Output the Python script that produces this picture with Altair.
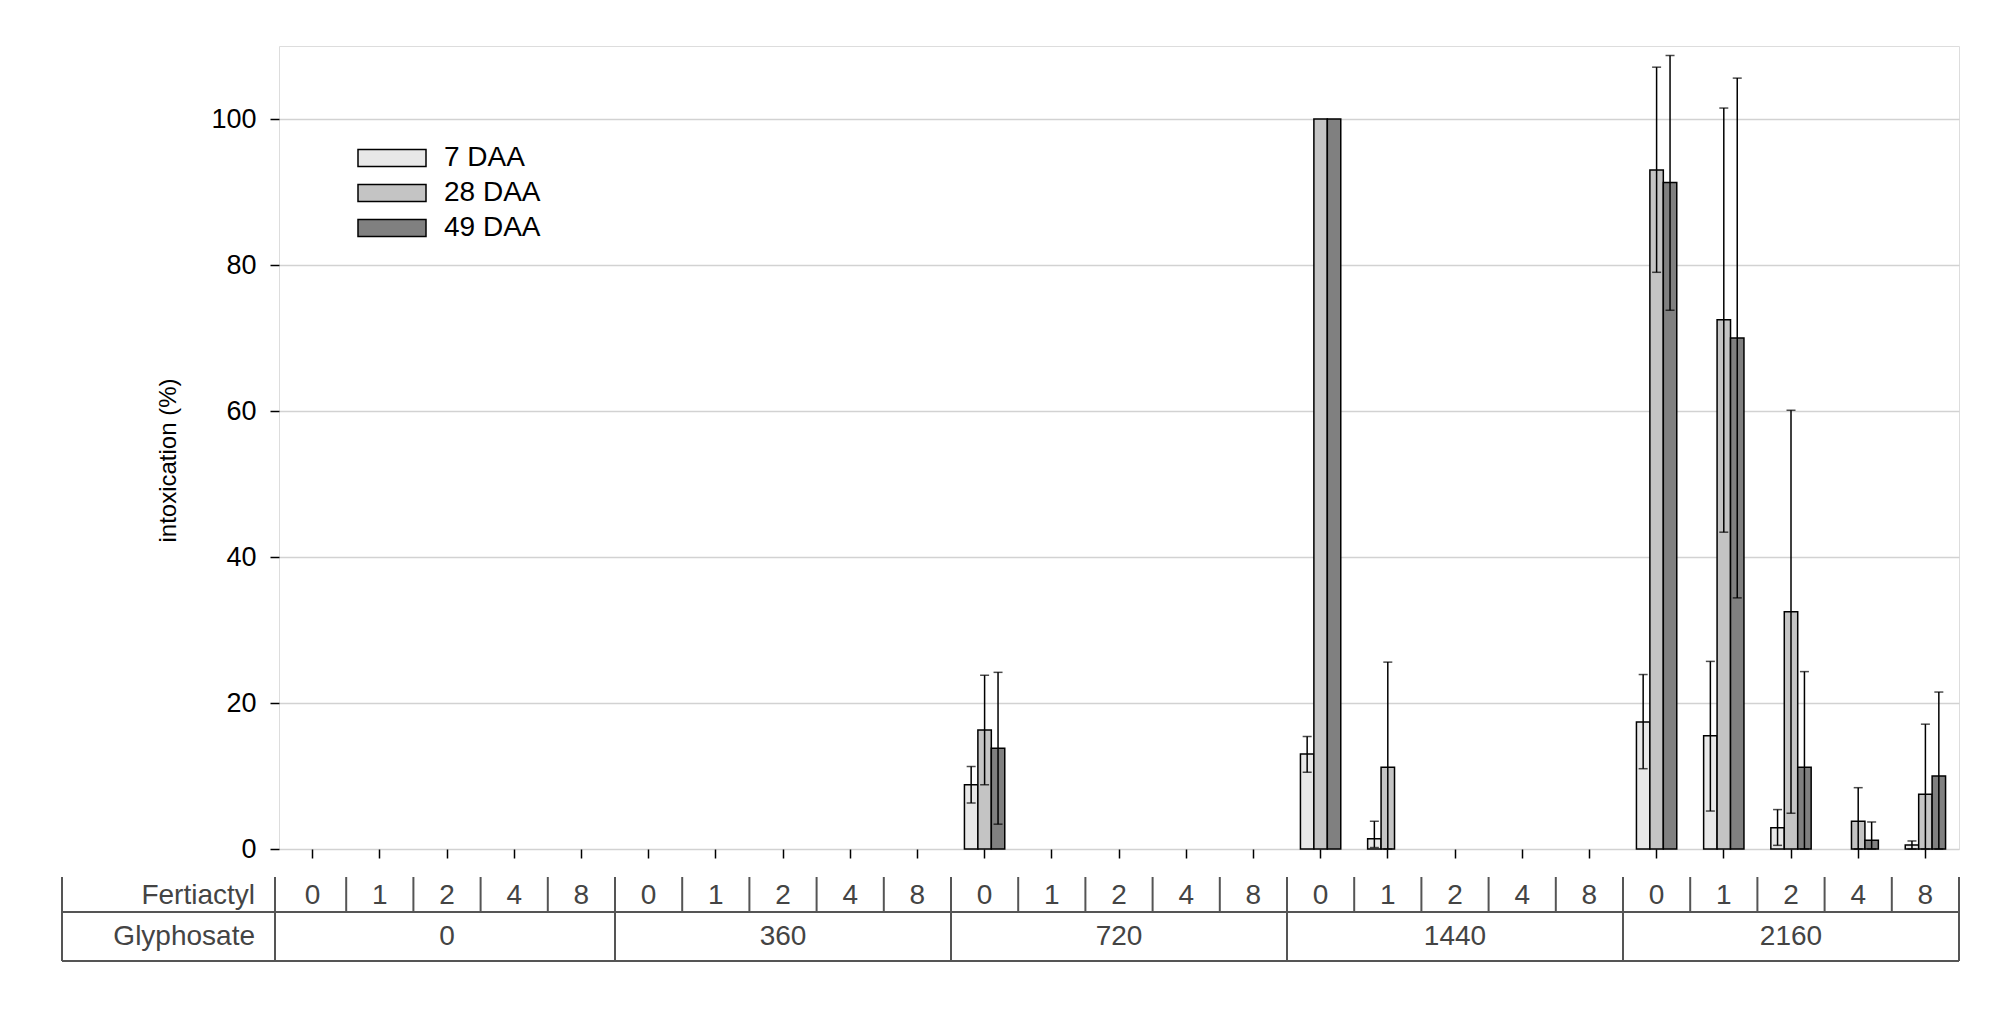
import altair as alt
import pandas as pd

glyphosate = ["0", "360", "720", "1440", "2160"]
fertiactyl = ["0", "1", "2", "4", "8"]
series = ["7 DAA", "28 DAA", "49 DAA"]
colors = ["#e8e8e8", "#c4c4c4", "#808080"]

# values per category (glyphosate x fertiactyl), 25 entries each
val_7 = [0, 0, 0, 0, 0,  0, 0, 0, 0, 0,  8.8, 0, 0, 0, 0,  13.0, 1.4, 0, 0, 0,  17.4, 15.5, 2.9, 0, 0.55]
val_28 = [0, 0, 0, 0, 0,  0, 0, 0, 0, 0,  16.3, 0, 0, 0, 0,  100, 11.2, 0, 0, 0,  93.0, 72.5, 32.5, 3.8, 7.5]
val_49 = [0, 0, 0, 0, 0,  0, 0, 0, 0, 0,  13.8, 0, 0, 0, 0,  100, 0, 0, 0, 0,  91.3, 70.0, 11.2, 1.2, 10.0]

N = None
lo_7 = [N, N, N, N, N,  N, N, N, N, N,  6.3, N, N, N, N,  10.5, 0.2, N, N, N,  11.0, 5.2, 0.5, N, 0]
hi_7 = [N, N, N, N, N,  N, N, N, N, N,  11.3, N, N, N, N,  15.4, 3.8, N, N, N,  23.9, 25.7, 5.4, N, 1.1]
lo_28 = [N, N, N, N, N,  N, N, N, N, N,  8.8, N, N, N, N,  N, 0, N, N, N,  79.0, 43.4, 4.9, 0, 0]
hi_28 = [N, N, N, N, N,  N, N, N, N, N,  23.8, N, N, N, N,  N, 25.6, N, N, N,  107.1, 101.5, 60.1, 8.4, 17.1]
lo_49 = [N, N, N, N, N,  N, N, N, N, N,  3.4, N, N, N, N,  N, N, N, N, N,  73.8, 34.4, 0, 0, 0]
hi_49 = [N, N, N, N, N,  N, N, N, N, N,  24.2, N, N, N, N,  N, N, N, N, N,  108.7, 105.6, 24.3, 3.7, 21.5]

cats = []
cat_rows = []
rows = []
for gi, g in enumerate(glyphosate):
    for fi, f in enumerate(fertiactyl):
        i = gi * 5 + fi
        cat = g + "|" + f
        cats.append(cat)
        cat_rows.append({"cat": cat, "glyph": g, "fert": f, "fi": fi, "gi": gi})
        for s, vals, los, his in zip(series, [val_7, val_28, val_49],
                                      [lo_7, lo_28, lo_49], [hi_7, hi_28, hi_49]):
            rows.append({"cat": cat, "glyph": g, "fert": f, "series": s,
                         "value": vals[i], "lo": los[i], "hi": his[i]})

df = pd.DataFrame(rows)
dcat = pd.DataFrame(cat_rows)

W, H = 1680, 803
FONT = "Liberation Sans"

xaxis = alt.Axis(labels=False, title=None, ticks=True, tickSize=9, tickColor="black",
                 tickWidth=1.5, domain=False, grid=False)
xscale = alt.Scale(domain=cats, paddingInner=0, paddingOuter=0)
X = alt.X("cat:N", sort=cats, scale=xscale, axis=xaxis)
XO = alt.XOffset("series:N", sort=series,
                 scale=alt.Scale(domain=series, paddingInner=0, paddingOuter=1))

yaxis = alt.Axis(values=[0, 20, 40, 60, 80, 100], title="intoxication (%)", grid=True,
                 gridColor="#d2d2d2", gridWidth=1.5, tickSize=9, tickColor="black",
                 tickWidth=1.5, labelFontSize=27, labelPadding=14, labelFont=FONT,
                 labelColor="black", domain=False, titleFontSize=24, titleFont=FONT,
                 titleFontWeight="normal", titleColor="black", titleX=-111, titleY=414,
                 titleAngle=270, titleBaseline="middle", titleAlign="center")
yscale = alt.Scale(domain=[0, 110], nice=False, zero=True)

bars = alt.Chart(df).transform_filter("datum.value > 0").mark_bar(
    stroke="black", strokeWidth=1.5, opacity=1
).encode(
    x=X, xOffset=XO,
    y=alt.Y("value:Q", scale=yscale, axis=yaxis),
    color=alt.Color("series:N", sort=series, scale=alt.Scale(domain=series, range=colors),
                    legend=alt.Legend(title=None, orient="none", legendX=95, legendY=94,
                                      symbolType="M-2,-0.5L2,-0.5L2,0.5L-2,0.5Z",
                                      symbolSize=1156, symbolStrokeColor="black",
                                      symbolStrokeWidth=1.5, symbolOpacity=1,
                                      labelFontSize=28, labelFont=FONT, labelColor="black",
                                      labelOffset=34, rowPadding=3, padding=0)),
)

err = alt.Chart(df).transform_filter("isValid(datum.hi)")
rules = err.mark_rule(color="black", strokeWidth=1.5).encode(
    x=X, xOffset=XO,
    y=alt.Y("lo:Q", scale=yscale, axis=yaxis),
    y2="hi:Q",
)
caps = err.transform_fold(["lo", "hi"], as_=["k", "v"]).mark_tick(
    color="black", thickness=1.5, size=9
).encode(
    x=X, xOffset=XO,
    y=alt.Y("v:Q", scale=yscale, axis=yaxis),
)

# --- table below the plot ---
TC = "#444444"
LC = "#555555"
TF = 28
r_top, r_mid, r_bot = 831, 866, 915

fert_text = alt.Chart(dcat).mark_text(fontSize=TF, font=FONT, color=TC, baseline="middle",
                                      align="center").encode(
    x=X, y=alt.value((r_top + r_mid) / 2 + 1), text="fert:N")
glyph_text = alt.Chart(dcat).transform_filter("datum.fi == 2").mark_text(
    fontSize=TF, font=FONT, color=TC, baseline="middle", align="center").encode(
    x=X, y=alt.value((r_mid + r_bot) / 2), text="glyph:N")

inner_sep = alt.Chart(dcat).transform_filter("datum.fi != 0").mark_rule(
    color=LC, strokeWidth=2).encode(
    x=alt.X("cat:N", sort=cats, scale=xscale, axis=xaxis, bandPosition=0),
    y=alt.value(r_top), y2=alt.value(r_mid))
group_sep = alt.Chart(dcat).transform_filter("datum.fi == 0 && datum.gi > 0").mark_rule(
    color=LC, strokeWidth=2).encode(
    x=alt.X("cat:N", sort=cats, scale=xscale, axis=xaxis, bandPosition=0),
    y=alt.value(r_top), y2=alt.value(r_bot))

one = alt.Data(values=[{"a": 1}])
lab_f = alt.Chart(one).mark_text(text="Fertiactyl", fontSize=TF, font=FONT, color=TC,
                                 align="right", baseline="middle").encode(
    x=alt.value(-24), y=alt.value((r_top + r_mid) / 2 + 1))
lab_g = alt.Chart(one).mark_text(text="Glyphosate", fontSize=TF, font=FONT, color=TC,
                                 align="right", baseline="middle").encode(
    x=alt.value(-24), y=alt.value((r_mid + r_bot) / 2))

h_mid = alt.Chart(one).mark_rule(color=LC, strokeWidth=2).encode(
    x=alt.value(-217), x2=alt.value(W), y=alt.value(r_mid))
h_bot = alt.Chart(one).mark_rule(color=LC, strokeWidth=2).encode(
    x=alt.value(-217), x2=alt.value(W), y=alt.value(r_bot))
v_left = alt.Chart(one).mark_rule(color=LC, strokeWidth=2).encode(
    x=alt.value(-217), y=alt.value(r_top), y2=alt.value(r_bot))
v_lab = alt.Chart(one).mark_rule(color=LC, strokeWidth=2).encode(
    x=alt.value(-4), y=alt.value(r_top), y2=alt.value(r_bot))
v_right = alt.Chart(one).mark_rule(color=LC, strokeWidth=2).encode(
    x=alt.value(W), y=alt.value(r_top), y2=alt.value(r_bot))

chart = alt.layer(
    bars, rules, caps,
    fert_text, glyph_text, inner_sep, group_sep,
    lab_f, lab_g, h_mid, h_bot, v_left, v_lab, v_right,
).properties(
    width=W, height=H,
    autosize=alt.AutoSizeParams(type="none"),
    padding={"left": 271, "top": 38, "right": 30, "bottom": 140},
).configure_view(
    stroke="black", strokeWidth=2
).configure(
    background="white"
)

chart.save("out.html", embed_options={"renderer": "svg", "actions": False})
